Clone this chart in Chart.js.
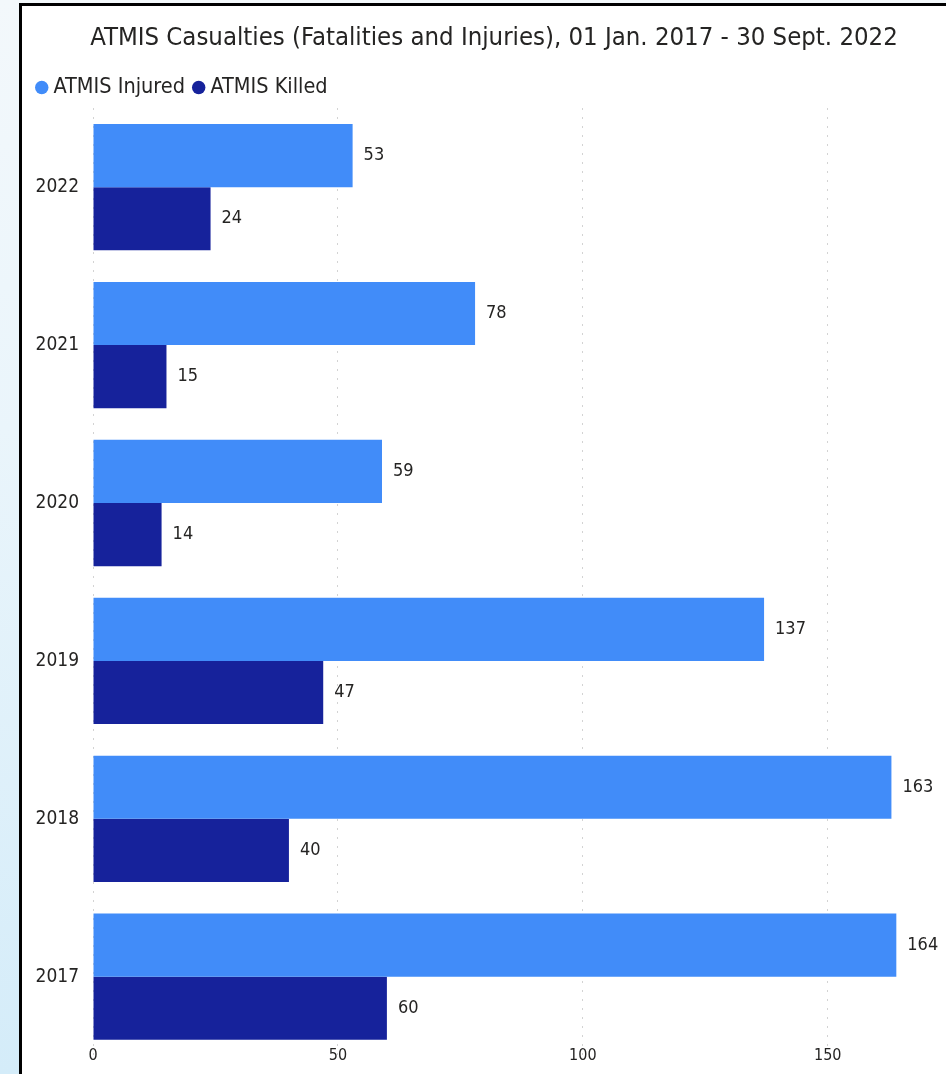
<!DOCTYPE html>
<html>
<head>
<meta charset="utf-8">
<script src="https://cdn.jsdelivr.net/npm/chart.js@4.4.0/dist/chart.umd.min.js"></script>
<style>
  html, body { margin: 0; padding: 0; }
  body {
    width: 946px; height: 1074px; overflow: hidden; position: relative;
    background: linear-gradient(to bottom, #f3f8fb 0%, #eaf5fb 40%, #d4ecf9 100%);
  }
  .card {
    position: absolute; left: 19px; top: 3px; width: 1000px; height: 1100px;
    background: #fff; border-top: 3px solid #000; border-left: 3px solid #000;
  }
  #chart { position: absolute; left: 22px; top: 6px; }
</style>
</head>
<body>
<div class="card"></div>
<canvas id="chart" width="944" height="1068"></canvas>
<script>
// values
const years = ['2022', '2021', '2020', '2019', '2018', '2017'];
const injured = [53, 78, 59, 137, 163, 164];
const killed = [24, 15, 14, 47, 40, 60];
const xTicks = [0, 50, 100, 150];

const FONT = "'DejaVu Sans Condensed', 'DejaVu Sans', sans-serif";
const TEXT = '#252423';

// draws the value at the end of each bar
const barValues = {
  id: 'barValues',
  afterDatasetsDraw(chart) {
    const ctx = chart.ctx;
    ctx.save();
    ctx.font = '18px ' + FONT;
    ctx.fillStyle = TEXT;
    ctx.textAlign = 'left';
    ctx.textBaseline = 'middle';
    chart.data.datasets.forEach((ds, i) => {
      chart.getDatasetMeta(i).data.forEach((bar, j) => {
        ctx.fillText(ds.data[j], bar.x + 11, bar.y);
      });
    });
    ctx.restore();
  }
};

new Chart(document.getElementById('chart'), {
  type: 'bar',
  data: {
    labels: years,
    datasets: [
      { label: 'ATMIS Injured', data: injured, backgroundColor: '#418cf9' },
      { label: 'ATMIS Killed', data: killed, backgroundColor: '#16229b' }
    ]
  },
  options: {
    indexAxis: 'y',
    responsive: false,
    animation: false,
    devicePixelRatio: 1,
    barPercentage: 1.0,
    categoryPercentage: 0.8,
    layout: { padding: { left: 6, right: 6, top: 0, bottom: 18.35 } },
    plugins: {
      title: {
        display: true,
        text: 'ATMIS Casualties (Fatalities and Injuries), 01 Jan. 2017 - 30 Sept. 2022',
        color: TEXT,
        font: { family: FONT, size: 25.5, weight: 'normal' },
        padding: { top: 17, bottom: 10.4 }
      },
      legend: {
        position: 'top',
        align: 'start',
        labels: {
          color: TEXT,
          font: { family: FONT, size: 21.5 },
          usePointStyle: true,
          pointStyle: 'circle',
          boxWidth: 2,
          boxHeight: 9.5,
          padding: 12.75
        }
      },
      tooltip: { enabled: false }
    },
    scales: {
      x: {
        min: 0,
        max: 177,
        afterBuildTicks: (s) => { s.ticks = xTicks.map(v => ({ value: v })); },
        ticks: {
          color: TEXT,
          font: { family: FONT, size: 16 },
          mirror: true,
          padding: -9.95
        },
        grid: {
          color: '#c4c4c4',
          lineWidth: 1,
          drawTicks: false
        },
        border: { display: false, dash: [1.5, 7.5] }
      },
      y: {
        afterFit: (s) => { s.width = 65; s.paddingTop = 0; s.paddingBottom = 0; },
        ticks: {
          color: TEXT,
          font: { family: FONT, size: 19 },
          padding: 14
        },
        grid: { display: false, drawTicks: false },
        border: { display: false }
      }
    }
  },
  plugins: [barValues]
});
</script>
</body>
</html>
